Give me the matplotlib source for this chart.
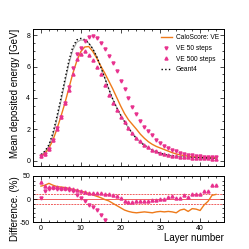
import numpy as np
import matplotlib
matplotlib.use("Agg")
import matplotlib.pyplot as plt
from matplotlib.ticker import MultipleLocator

plt.rcParams['font.family'] = ['Liberation Sans', 'DejaVu Sans']
plt.rcParams['axes.unicode_minus'] = False

layers = list(range(45))

geant4 = [0.38, 0.6, 1.0, 1.75, 2.8, 3.95, 5.15, 6.35, 7.25, 7.7, 7.8, 7.72, 7.5, 7.15,
          6.65, 6.0, 5.3, 4.6, 3.95, 3.4, 2.92, 2.5, 2.1, 1.72, 1.42, 1.18, 0.98, 0.82,
          0.68, 0.56, 0.46, 0.39, 0.34, 0.3, 0.27, 0.25, 0.23, 0.21, 0.2, 0.19, 0.18,
          0.17, 0.16, 0.15, 0.14]
geant4_ref = [0.35, 0.55, 0.92, 1.6, 2.6, 3.75, 4.95, 6.15, 7.05, 7.55, 7.7, 7.68, 7.5,
              7.15, 6.65, 6.0, 5.3, 4.6, 3.95, 3.4, 2.9, 2.48, 2.08, 1.7, 1.4, 1.16, 0.96,
              0.8, 0.66, 0.55, 0.46, 0.39, 0.34, 0.3, 0.27, 0.25, 0.23, 0.21, 0.2, 0.19,
              0.18, 0.17, 0.16, 0.15, 0.14]
caloscore = [0.3, 0.45, 0.78, 1.3, 2.0, 2.8, 3.65, 4.6, 5.55, 6.35, 6.95, 7.25, 7.28, 6.98,
             6.55, 6.05, 5.6, 5.1, 4.6, 4.05, 3.5, 3.0, 2.6, 2.3, 2.0, 1.68, 1.42, 1.2,
             1.03, 0.9, 0.8, 0.7, 0.6, 0.5, 0.42, 0.36, 0.32, 0.28, 0.25, 0.23, 0.21,
             0.2, 0.19, 0.18, 0.17]
ve50 = [0.28, 0.42, 0.75, 1.3, 2.05, 2.8, 3.7, 4.7, 5.9, 6.8, 7.2, 7.64, 7.9, 7.95, 7.8,
        7.5, 7.15, 6.7, 6.2, 5.7, 5.1, 4.6, 4.0, 3.45, 3.0, 2.55, 2.15, 1.9, 1.6, 1.3,
        1.1, 0.95, 0.82, 0.7, 0.58, 0.5, 0.44, 0.38, 0.33, 0.3, 0.27, 0.25, 0.23, 0.21, 0.2]
ve500 = [0.26, 0.43, 0.76, 1.3, 2.02, 2.78, 3.65, 4.5, 5.5, 6.5, 6.8, 7.0, 6.75, 6.4, 5.95,
         5.5, 4.85, 4.2, 3.65, 3.2, 2.8, 2.45, 2.1, 1.75, 1.47, 1.22, 1.02, 0.85, 0.7,
         0.58, 0.47, 0.4, 0.34, 0.3, 0.27, 0.25, 0.22, 0.21, 0.19, 0.18, 0.17, 0.15,
         0.14, 0.12, 0.11]

diff_caloscore = [28, 30, 34, 30, 27, 26, 25, 23, 21, 19, 17, 15, 12, 9, 6, 3, -1, -4, -9,
                  -14, -19, -24, -27, -29, -30, -29, -28, -29, -30, -28, -27, -28, -27,
                  -28, -30, -24, -22, -27, -21, -22, -25, -13, -5, 8, 10]
diff_ve50 = [3, 18, 22, 23, 22, 22, 21, 20, 17, 8, 3, -5, -13, -18, -24, -35, -46,
             np.nan, np.nan, np.nan, np.nan, np.nan, np.nan, np.nan, np.nan, np.nan,
             np.nan, np.nan, np.nan, np.nan, np.nan, np.nan, np.nan, np.nan, np.nan,
             np.nan, np.nan, np.nan, np.nan, np.nan, np.nan, np.nan, np.nan, np.nan, np.nan]
diff_ve500 = [38, 28, 26, 25, 25, 24, 24, 23, 22, 20, 17, 15, 14, 13, 12, 12, 11, 10, 8, 6,
              2, -4, -7, -6, -5, -5, -4, -4, -2, -2, 0, 0, 4, 6, 3, 3, 8, 4, 10, 10, 10,
              17, 17, 30, 30]

orange = '#ee7a1a'
pink = '#e8328e'

fig = plt.figure(figsize=(2.49, 2.49), dpi=100)
ax = fig.add_axes([0.1325, 0.3333, 0.767, 0.5502])
axr = fig.add_axes([0.1325, 0.1084, 0.767, 0.1848])

ms = 2.2
ax.plot(layers, geant4_ref, color='#999999', lw=0.7, zorder=2)
ax.plot(layers, caloscore, color=orange, lw=1.0, label='CaloScore: VE', zorder=3)
ax.plot(layers, ve50, ls='none', marker='v', ms=ms, color=pink, label='VE 50 steps', zorder=4)
ax.plot(layers, ve500, ls='none', marker='^', ms=ms, color=pink, label='VE 500 steps', zorder=4)
ax.plot(layers, geant4, color='black', ls=':', lw=1.0, label='Geant4', zorder=3)

ax.set_xlim(-2, 46)
ax.set_ylim(-0.35, 8.4)
ax.yaxis.set_major_locator(MultipleLocator(2))
ax.yaxis.set_minor_locator(MultipleLocator(0.5))
ax.set_ylabel('Mean deposited energy [GeV]', fontsize=7, loc='top')
ax.yaxis.set_label_coords(-0.07, 1.0)
leg = ax.legend(loc='upper right', frameon=False, fontsize=4.8, handlelength=1.6,
                handletextpad=0.6, labelspacing=0.55, borderaxespad=0.4)

axr.plot(layers, diff_caloscore, color=orange, lw=1.0, zorder=3)
axr.plot(layers, diff_ve50, ls='none', marker='v', ms=ms, color=pink, zorder=4)
axr.plot(layers, diff_ve500, ls='none', marker='^', ms=ms, color=pink, zorder=4)
axr.axhline(0, color='#f06060', lw=0.7, zorder=1)
axr.axhline(10, color='#f06060', lw=0.7, ls=(0, (2, 1)), zorder=1)
axr.axhline(-10, color='#f06060', lw=0.7, ls=(0, (2, 1)), zorder=1)
axr.set_xlim(-2, 46)
axr.set_ylim(-50, 50)
axr.yaxis.set_major_locator(MultipleLocator(50))
axr.yaxis.set_minor_locator(MultipleLocator(10))
axr.set_ylabel('Difference. (%)', fontsize=7, loc='top')
axr.yaxis.set_label_coords(-0.07, 1.0)
axr.set_xlabel('Layer number', fontsize=7, loc='right', labelpad=1)

for a in (ax, axr):
    a.xaxis.set_major_locator(MultipleLocator(10))
    a.xaxis.set_minor_locator(MultipleLocator(2))
    a.tick_params(which='both', direction='in', top=True, right=True, labelsize=5,
                  width=0.5, pad=2)
    a.tick_params(which='major', length=3)
    a.tick_params(which='minor', length=1.5)
    for s in a.spines.values():
        s.set_linewidth(0.7)
ax.tick_params(labelbottom=False)

fig.savefig('out.png', dpi=100)
